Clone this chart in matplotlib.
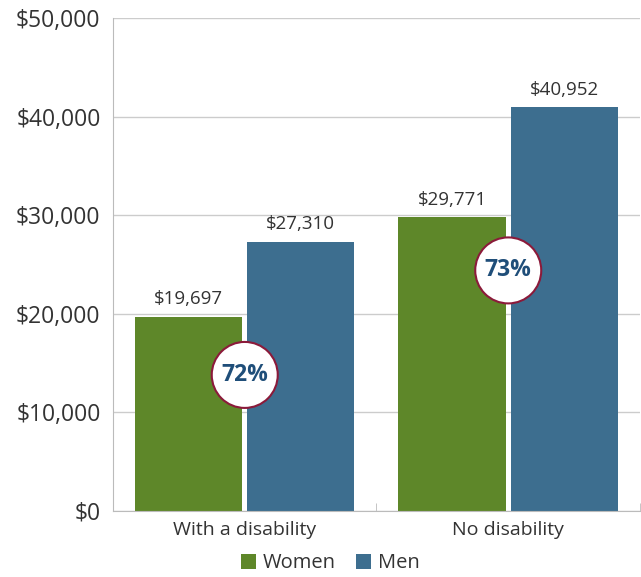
import matplotlib
matplotlib.use("Agg")
import matplotlib.pyplot as plt
from matplotlib.patches import Ellipse
import numpy as np

categories = ["With a disability", "No disability"]
women = [19697, 29771]
men = [27310, 40952]
ratios = ["72%", "73%"]
ratio_y = [13800, 24400]
yticks = [0, 10000, 20000, 30000, 40000, 50000]

GREEN = "#5E8729"
BLUE = "#3D6E8F"
plt.rcParams['font.family'] = ['Open Sans', 'DejaVu Sans']

fig = plt.figure(figsize=(6.41, 5.77), dpi=100)
ax = fig.add_axes([0.1763, 0.1144, 0.8221, 0.8544])

x = np.arange(len(categories))
w = 0.407
off = 0.213
ax.bar(x - off, women, w, color=GREEN, label="Women", zorder=2)
ax.bar(x + off, men, w, color=BLUE, label="Men", zorder=2)

for xi, v in zip(x - off, women):
    ax.annotate(f"${v:,}", (xi, v), xytext=(0, 6), textcoords="offset points",
                ha="center", va="bottom", fontsize=13.5, color="#333333")
for xi, v in zip(x + off, men):
    ax.annotate(f"${v:,}", (xi, v), xytext=(0, 6), textcoords="offset points",
                ha="center", va="bottom", fontsize=13.5, color="#333333")

ax.set_xlim(-0.5, 1.5)
ax.set_ylim(0, 50000)
ax.set_yticks(yticks)
ax.set_yticklabels([f"${t:,}" for t in yticks], fontsize=16.5, color="#333333")
ax.set_xticks(x)
ax.set_xticklabels(categories, fontsize=14, color="#333333")
ax.tick_params(axis="x", length=0, pad=7)
ax.tick_params(axis="y", length=0, pad=9)
ax.set_xticks([0.5, 1.5], minor=True)
ax.tick_params(axis="x", which="minor", direction="in", length=6, color="#BBBBBB")

ax.grid(axis="y", color="#CCCCCC", linewidth=1, zorder=0)
for s in ["top", "right"]:
    ax.spines[s].set_visible(False)
ax.spines["left"].set_color("#BBBBBB")
ax.spines["bottom"].set_color("#BBBBBB")

# circles
fig.canvas.draw()
bbox = ax.get_window_extent()
r_px = 33
rx = r_px / bbox.width * 2.0
ry = r_px / bbox.height * 50000
for xi, yv, t in zip(x, ratio_y, ratios):
    e = Ellipse((xi, yv), 2 * rx, 2 * ry, facecolor="white", edgecolor="#8B1A3A",
                linewidth=1.5, zorder=4)
    ax.add_patch(e)
    ax.text(xi, yv, t, ha="center", va="center", fontsize=16.5, fontweight="bold",
            color="#1F4E79", zorder=5)

leg = fig.legend(loc="center", bbox_to_anchor=(0.515, 0.024), ncol=2, frameon=False,
                 fontsize=14.5, handlelength=0.75, handleheight=0.75, handletextpad=0.35,
                 columnspacing=1.0, borderpad=0.0, borderaxespad=0.0)
for t in leg.get_texts():
    t.set_color("#333333")

fig.savefig("out.png", dpi=100)
